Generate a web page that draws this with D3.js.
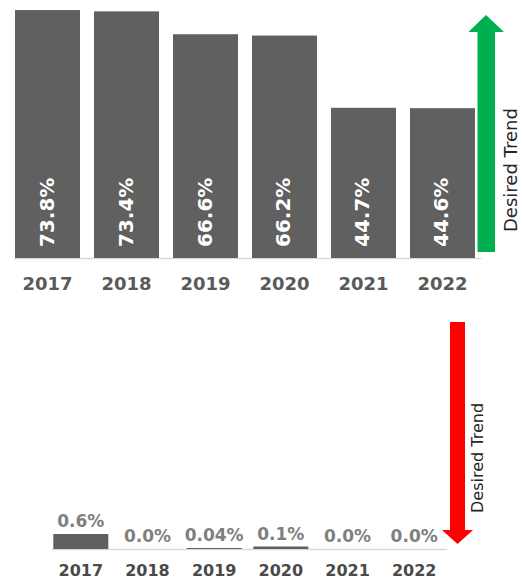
<!DOCTYPE html>
<html>
<head>
<meta charset="utf-8">
<script src="https://cdn.jsdelivr.net/npm/d3@7"></script>
<style>
  html, body { margin: 0; padding: 0; background: #ffffff; }
  svg { display: block; }
</style>
</head>
<body>
<svg id="chart" width="522" height="579"></svg>
<script>
// ---- data ----
const years = ["2017", "2018", "2019", "2020", "2021", "2022"];
const topValues = [73.8, 73.4, 66.6, 66.2, 44.7, 44.6];
const topLabels = ["73.8%", "73.4%", "66.6%", "66.2%", "44.7%", "44.6%"];
const bottomValues = [0.6, 0.0, 0.04, 0.1, 0.0, 0.0];
const bottomLabels = ["0.6%", "0.0%", "0.04%", "0.1%", "0.0%", "0.0%"];
const trendText = "Desired Trend";

const svg = d3.select("#chart");
const FONT = "'DejaVu Sans', Verdana, sans-serif";
const BAR = "#606060";

// ================= TOP CHART =================
const xTop = d3.scaleBand().domain(years).range([15, 475]).paddingInner(0.177).paddingOuter(0);
const yTop = d3.scaleLinear().domain([0, 80]).range([258, 258 - 80 * 3.36]);

const gTop = svg.append("g");
gTop.append("line")
  .attr("x1", 14).attr("x2", 481)
  .attr("y1", yTop(0) + 0.5).attr("y2", yTop(0) + 0.5)
  .attr("stroke", "#d9d9d9").attr("stroke-width", 1.5);

gTop.selectAll("rect.bar").data(years).join("rect")
  .attr("class", "bar")
  .attr("x", d => xTop(d))
  .attr("width", xTop.bandwidth())
  .attr("y", (d, i) => yTop(topValues[i]))
  .attr("height", (d, i) => yTop(0) - yTop(topValues[i]))
  .attr("fill", BAR);

gTop.selectAll("text.val").data(years).join("text")
  .attr("class", "val")
  .attr("transform", d => `translate(${xTop(d) + xTop.bandwidth() / 2 + 6},${yTop(0) - 11}) rotate(-90)`)
  .attr("text-anchor", "start")
  .attr("font-family", FONT).attr("font-weight", "bold").attr("font-size", 20)
  .attr("fill", "#ffffff")
  .text((d, i) => topLabels[i]);

const axTop = gTop.append("g")
  .attr("transform", `translate(0,${yTop(0)})`)
  .call(d3.axisBottom(xTop).tickSize(0).tickPadding(18));
axTop.select(".domain").remove();
axTop.selectAll("text")
  .attr("font-family", FONT).attr("font-weight", "bold").attr("font-size", 18)
  .attr("fill", "#5a5a5a").attr("dy", "0.71em").attr("y", 19);

// green arrow (up)
gTop.append("path")
  .attr("d", d3.line()([[477.5, 252], [477.5, 32], [468.5, 32], [486, 15], [504, 32], [495, 32], [495, 252]]) + "Z")
  .attr("fill", "#00b050");

gTop.append("text")
  .attr("transform", "translate(517,232) rotate(-90)")
  .attr("font-family", FONT).attr("font-size", 18)
  .attr("fill", "#262626")
  .text(trendText);

// ================= BOTTOM CHART =================
const xBot = d3.scaleBand().domain(years).range([53.3, 441.7]).paddingInner(0.175).paddingOuter(0);
const yBot = d3.scaleLinear().domain([0, 8]).range([549, 349]);

const gBot = svg.append("g");
gBot.append("line")
  .attr("x1", 52).attr("x2", 447)
  .attr("y1", yBot(0) + 0.5).attr("y2", yBot(0) + 0.5)
  .attr("stroke", "#d9d9d9").attr("stroke-width", 1.5);

gBot.selectAll("rect.bar").data(years).join("rect")
  .attr("class", "bar")
  .attr("x", d => xBot(d))
  .attr("width", xBot.bandwidth())
  .attr("y", (d, i) => yBot(bottomValues[i]))
  .attr("height", (d, i) => yBot(0) - yBot(bottomValues[i]))
  .attr("fill", BAR);

gBot.selectAll("text.val").data(years).join("text")
  .attr("class", "val")
  .attr("x", d => xBot(d) + xBot.bandwidth() / 2)
  .attr("y", (d, i) => yBot(bottomValues[i]) - 7)
  .attr("text-anchor", "middle")
  .attr("font-family", FONT).attr("font-weight", "bold").attr("font-size", 17)
  .attr("fill", "#7f7f7f")
  .text((d, i) => bottomLabels[i]);

const axBot = gBot.append("g")
  .attr("transform", `translate(0,${yBot(0)})`)
  .call(d3.axisBottom(xBot).tickSize(0));
axBot.select(".domain").remove();
axBot.selectAll("text")
  .attr("font-family", FONT).attr("font-weight", "bold").attr("font-size", 16)
  .attr("fill", "#4a4a4a").attr("dy", "0.71em").attr("y", 16);

// red arrow (down)
gBot.append("path")
  .attr("d", d3.line()([[450, 322], [465, 322], [465, 530], [473, 530], [457.5, 544], [442, 530], [450, 530]]) + "Z")
  .attr("fill", "#ff0000");

gBot.append("text")
  .attr("transform", "translate(483,513) rotate(-90)")
  .attr("font-family", FONT).attr("font-size", 16)
  .attr("fill", "#262626")
  .text(trendText);
</script>
</body>
</html>
